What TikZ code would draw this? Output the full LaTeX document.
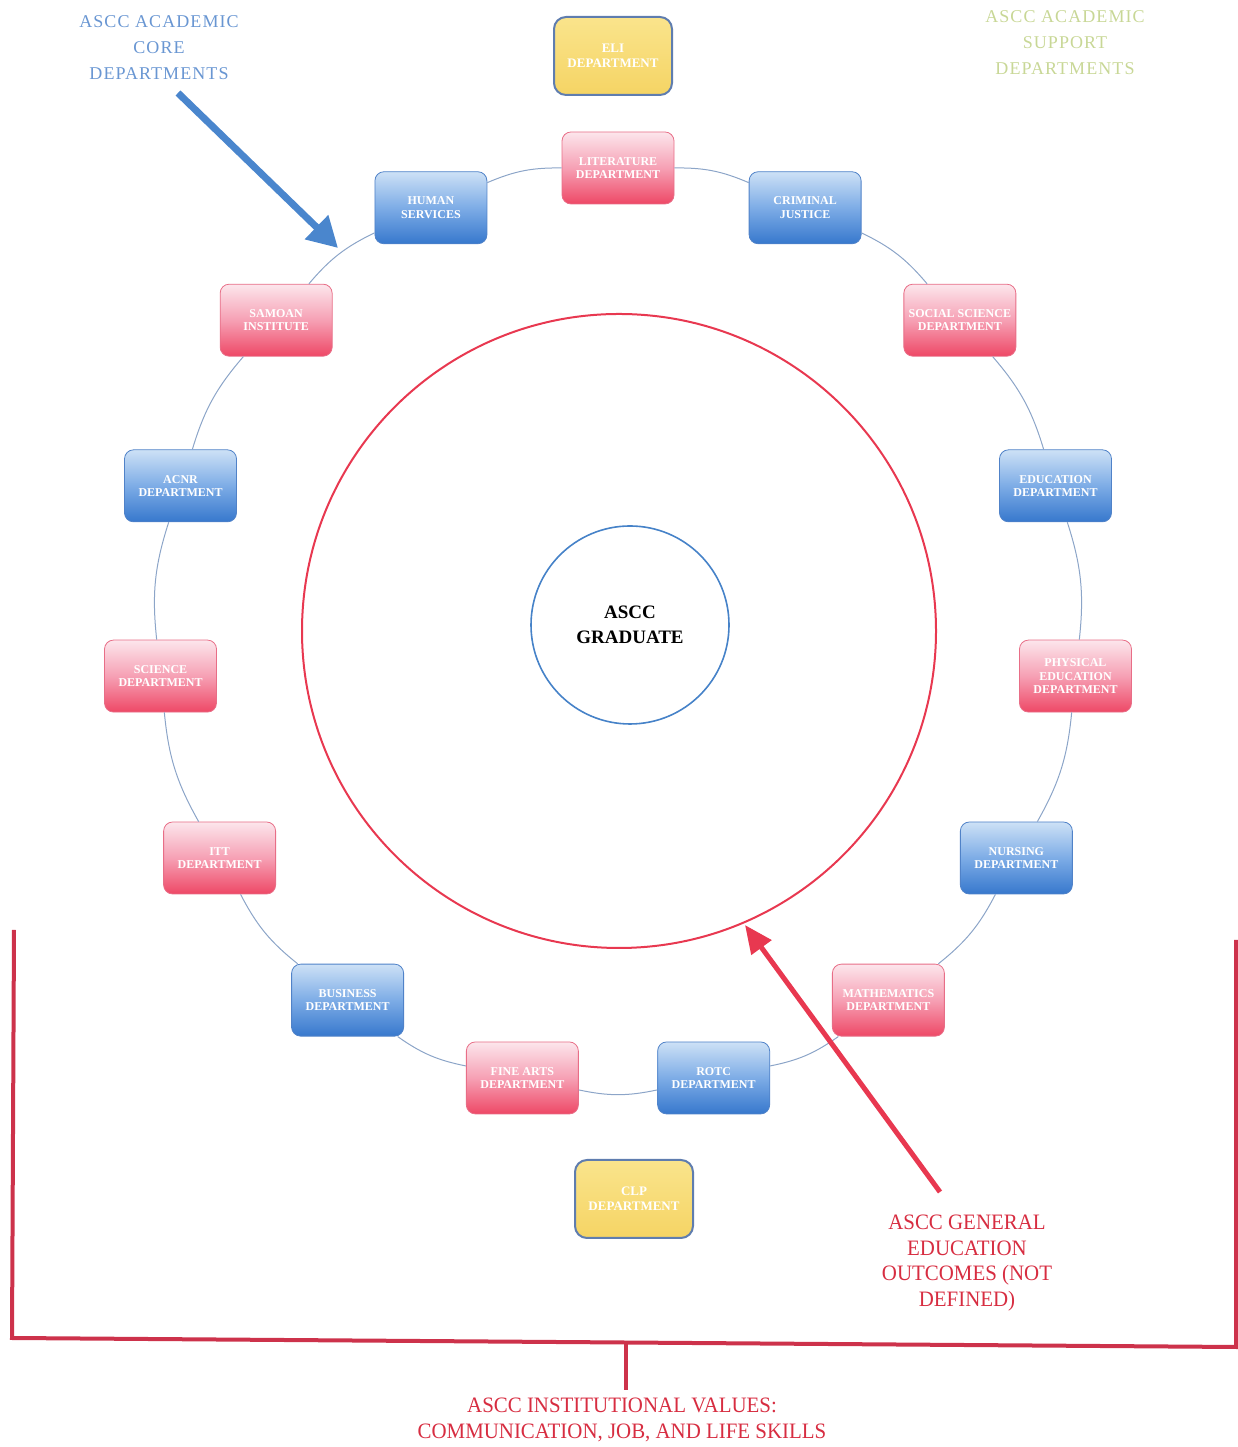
\documentclass[tikz,border=0pt]{standalone}
\usepackage{fontspec}
\setmainfont{Liberation Serif}
\newfontfamily\condserif[FakeStretch=0.95]{Liberation Serif}
\newfontfamily\spacedserif[LetterSpace=6]{Liberation Serif}
\usetikzlibrary{arrows.meta}
\definecolor{ringline}{RGB}{140,165,200}
\definecolor{redtop}{RGB}{252,230,236}
\definecolor{redmid}{RGB}{246,160,180}
\definecolor{redbot}{RGB}{238,72,102}
\definecolor{redborder}{RGB}{232,110,135}
\definecolor{bluetop}{RGB}{205,225,246}
\definecolor{bluemid}{RGB}{125,172,230}
\definecolor{bluebot}{RGB}{55,120,205}
\definecolor{blueborder}{RGB}{80,130,200}
\definecolor{yeltop}{RGB}{250,228,140}
\definecolor{yelbot}{RGB}{245,212,100}
\definecolor{yelborder}{RGB}{95,125,175}
\definecolor{bigred}{RGB}{232,56,80}
\definecolor{gradblue}{RGB}{70,130,200}
\definecolor{arrowblue}{RGB}{74,134,205}
\definecolor{labelblue}{RGB}{105,150,210}
\definecolor{labelgreen}{RGB}{200,215,150}
\definecolor{labelred}{RGB}{215,45,65}
\definecolor{bracketred}{RGB}{205,50,75}
\tikzset{
  dept/.style={rounded corners=9pt, minimum width=112pt, minimum height=72pt,
    text=white, align=center, inner sep=2pt, line width=0.8pt,
    font=\fontsize{12}{13.5}\selectfont\bfseries},
  reddept/.style={dept, draw=redborder, top color=redtop, bottom color=redbot, middle color=redmid},
  bluedept/.style={dept, draw=blueborder, top color=bluetop, bottom color=bluebot, middle color=bluemid},
  yeldept/.style={rounded corners=12pt, minimum width=118pt, minimum height=78pt,
    draw=yelborder, line width=2pt, top color=yeltop, bottom color=yelbot,
    text=white, align=center, font=\fontsize{13}{15}\selectfont\bfseries},
  ringarc/.style={draw=ringline, line width=1pt},
  toplabel/.style={align=center, font=\spacedserif\fontsize{18}{26}\selectfont},
  redlabel/.style={align=center, text=labelred, font=\condserif\fontsize{22}{25.5}\selectfont},
  bracket/.style={draw=bracketred, line width=4pt},
}
\begin{document}
\begin{tikzpicture}[x=1pt,y=1pt]
\useasboundingbox (0,0) rectangle (1238,1447);
% big circles
\draw[bigred, line width=2pt] (619,816) circle (317);
\node[circle, draw=gradblue, line width=1.6pt, minimum size=198pt, align=center,
  font=\fontsize{19}{25}\selectfont\bfseries] (grad) at (630,822) {ASCC\\GRADUATE};
% ring of departments
\foreach \i/\a/\s/\t in {
  1/90/reddept/{LITERATURE\\DEPARTMENT},
  2/114/bluedept/{HUMAN\\SERVICES},
  3/138/reddept/{SAMOAN\\INSTITUTE},
  4/162/bluedept/{ACNR\\DEPARTMENT},
  5/186/reddept/{SCIENCE\\DEPARTMENT},
  6/210/reddept/{ITT\\DEPARTMENT},
  7/234/bluedept/{BUSINESS\\DEPARTMENT},
  8/258/reddept/{FINE ARTS\\DEPARTMENT},
  9/282/bluedept/{ROTC\\DEPARTMENT},
  10/306/reddept/{MATHEMATICS\\DEPARTMENT},
  11/330/bluedept/{NURSING\\DEPARTMENT},
  12/354/reddept/{PHYSICAL\\EDUCATION\\DEPARTMENT},
  13/18/bluedept/{EDUCATION\\DEPARTMENT},
  14/42/reddept/{SOCIAL SCIENCE\\DEPARTMENT},
  15/66/bluedept/{CRIMINAL\\JUSTICE}}
  \node[\s] (d\i) at ({618+460*cos(\a)},{819+460*sin(\a)}) {\t};
\foreach \i [evaluate=\i as \j using {int(mod(\i,15)+1)}] in {1,...,15}
  \draw[ringarc] (d\i) to[bend right=12] (d\j);
% support departments
\node[yeldept] (eli) at (613,1391) {ELI\\DEPARTMENT};
\node[yeldept] (clp) at (634,248) {CLP\\DEPARTMENT};
% labels
\node[toplabel, text=labelblue] (core) at (159,1399) {ASCC ACADEMIC\\CORE\\DEPARTMENTS};
\node[toplabel, text=labelgreen] (support) at (1065,1404) {ASCC ACADEMIC\\SUPPORT\\DEPARTMENTS};
\node[redlabel] (geo) at (967,184) {ASCC GENERAL\\EDUCATION\\OUTCOMES (NOT\\DEFINED)};
\node[redlabel] (values) at (622,27) {ASCC INSTITUTIONAL VALUES:\\COMMUNICATION, JOB, AND LIFE SKILLS};
% arrows
\coordinate (ba1) at (178,1354);
\coordinate (ba2) at (338,1199);
\draw[arrowblue, line width=7pt, -{Triangle[length=30pt,width=32pt]}] (ba1) -- (ba2);
\coordinate (ra1) at (940,255);
\coordinate (ra2) at (745,522);
\draw[bigred, line width=5pt, -{Triangle[length=28pt,width=24pt]}] (ra1) -- (ra2);
% bracket
\coordinate (bl) at (14,517);
\coordinate (blc) at (12,109);
\coordinate (brc) at (1236,100);
\coordinate (br) at (1236,507);
\draw[bracket] (bl) -- (blc) -- (brc) -- (br);
\coordinate (stemtop) at (626,105);
\coordinate (stembot) at (626,57);
\draw[bracket] (stemtop) -- (stembot);
\end{tikzpicture}
\end{document}
